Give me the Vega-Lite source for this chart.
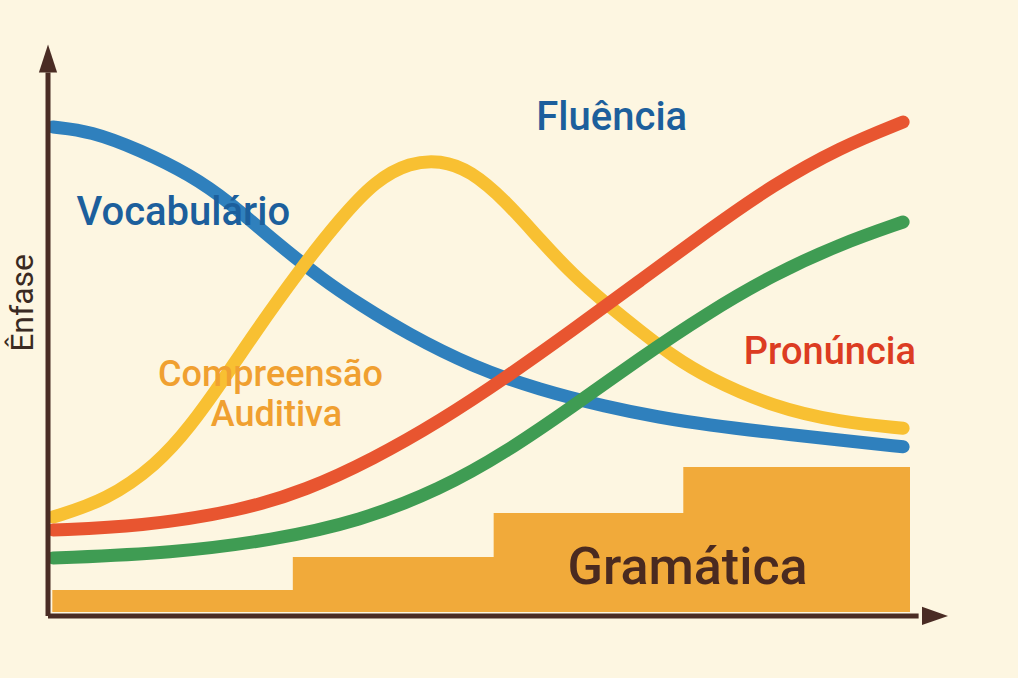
{
  "$schema": "https://vega.github.io/schema/vega-lite/v6.json",
  "width": 1018,
  "height": 678,
  "padding": 0,
  "autosize": {"type": "fit", "contains": "padding"},
  "background": "#fdf6e1",
  "config": {"view": {"stroke": null}, "font": "Roboto"},
  "datasets": {
    "curves": [
      {"series": "Vocabulário", "x": 0.06, "y": 8.63},
      {"series": "Vocabulário", "x": 0.49, "y": 8.56},
      {"series": "Vocabulário", "x": 1.07, "y": 8.22},
      {"series": "Vocabulário", "x": 1.65, "y": 7.78},
      {"series": "Vocabulário", "x": 2.1, "y": 7.3},
      {"series": "Vocabulário", "x": 2.61, "y": 6.62},
      {"series": "Vocabulário", "x": 3.19, "y": 5.91},
      {"series": "Vocabulário", "x": 3.62, "y": 5.47},
      {"series": "Vocabulário", "x": 4.16, "y": 4.96},
      {"series": "Vocabulário", "x": 4.93, "y": 4.36},
      {"series": "Vocabulário", "x": 5.71, "y": 3.95},
      {"series": "Vocabulário", "x": 6.48, "y": 3.65},
      {"series": "Vocabulário", "x": 7.1, "y": 3.46},
      {"series": "Vocabulário", "x": 7.65, "y": 3.33},
      {"series": "Vocabulário", "x": 8.41, "y": 3.19},
      {"series": "Vocabulário", "x": 9.19, "y": 3.06},
      {"series": "Vocabulário", "x": 9.92, "y": 2.94},
      {"series": "Compreensão Auditiva", "x": 0.06, "y": 1.69},
      {"series": "Compreensão Auditiva", "x": 0.68, "y": 1.99},
      {"series": "Compreensão Auditiva", "x": 1.26, "y": 2.62},
      {"series": "Compreensão Auditiva", "x": 1.65, "y": 3.3},
      {"series": "Compreensão Auditiva", "x": 2.03, "y": 4.12},
      {"series": "Compreensão Auditiva", "x": 2.38, "y": 4.93},
      {"series": "Compreensão Auditiva", "x": 2.92, "y": 6.09},
      {"series": "Compreensão Auditiva", "x": 3.39, "y": 7.0},
      {"series": "Compreensão Auditiva", "x": 3.8, "y": 7.68},
      {"series": "Compreensão Auditiva", "x": 4.2, "y": 8.0},
      {"series": "Compreensão Auditiva", "x": 4.55, "y": 8.04},
      {"series": "Compreensão Auditiva", "x": 4.9, "y": 7.86},
      {"series": "Compreensão Auditiva", "x": 5.32, "y": 7.3},
      {"series": "Compreensão Auditiva", "x": 5.71, "y": 6.62},
      {"series": "Compreensão Auditiva", "x": 6.09, "y": 6.0},
      {"series": "Compreensão Auditiva", "x": 6.48, "y": 5.48},
      {"series": "Compreensão Auditiva", "x": 6.87, "y": 5.0},
      {"series": "Compreensão Auditiva", "x": 7.25, "y": 4.55},
      {"series": "Compreensão Auditiva", "x": 7.65, "y": 4.17},
      {"series": "Compreensão Auditiva", "x": 8.41, "y": 3.65},
      {"series": "Compreensão Auditiva", "x": 9.19, "y": 3.38},
      {"series": "Compreensão Auditiva", "x": 9.92, "y": 3.27},
      {"series": "Fluência", "x": 0.06, "y": 0.96},
      {"series": "Fluência", "x": 1.45, "y": 1.05},
      {"series": "Fluência", "x": 2.61, "y": 1.28},
      {"series": "Fluência", "x": 3.62, "y": 1.62},
      {"series": "Fluência", "x": 4.55, "y": 2.18},
      {"series": "Fluência", "x": 5.32, "y": 2.85},
      {"series": "Fluência", "x": 6.09, "y": 3.66},
      {"series": "Fluência", "x": 6.87, "y": 4.52},
      {"series": "Fluência", "x": 7.65, "y": 5.32},
      {"series": "Fluência", "x": 8.41, "y": 6.0},
      {"series": "Fluência", "x": 9.19, "y": 6.55},
      {"series": "Fluência", "x": 9.92, "y": 6.94},
      {"series": "Pronúncia", "x": 0.06, "y": 1.46},
      {"series": "Pronúncia", "x": 1.07, "y": 1.52},
      {"series": "Pronúncia", "x": 2.23, "y": 1.8},
      {"series": "Pronúncia", "x": 3.0, "y": 2.17},
      {"series": "Pronúncia", "x": 3.77, "y": 2.72},
      {"series": "Pronúncia", "x": 4.55, "y": 3.4},
      {"series": "Pronúncia", "x": 5.32, "y": 4.18},
      {"series": "Pronúncia", "x": 6.09, "y": 5.02},
      {"series": "Pronúncia", "x": 6.87, "y": 5.9},
      {"series": "Pronúncia", "x": 7.65, "y": 6.78},
      {"series": "Pronúncia", "x": 8.41, "y": 7.6},
      {"series": "Pronúncia", "x": 9.19, "y": 8.27},
      {"series": "Pronúncia", "x": 9.92, "y": 8.72}
    ],
    "steps": [
      {"x": 0.05, "y": 0.39},
      {"x": 2.84, "y": 0.98},
      {"x": 5.17, "y": 1.76},
      {"x": 7.37, "y": 2.58},
      {"x": 10.0, "y": 2.58}
    ]
  },
  "layer": [
    {
      "data": {"name": "steps"},
      "mark": {"type": "area", "color": "#f1aa3a", "interpolate": "step-after", "opacity": 1},
      "encoding": {
        "x": {"field": "x", "type": "quantitative", "scale": {"domain": [-0.557, 11.253], "nice": false, "zero": false}, "axis": null},
        "y": {"field": "y", "type": "quantitative", "scale": {"domain": [-1.174, 10.89], "nice": false, "zero": false}, "axis": null},
        "y2": {"datum": 0}
      }
    },
    {
      "data": {"name": "curves"},
      "mark": {"type": "line", "strokeWidth": 13, "strokeCap": "round", "strokeJoin": "round", "interpolate": "basis"},
      "encoding": {
        "x": {"field": "x", "type": "quantitative"},
        "y": {"field": "y", "type": "quantitative"},
        "color": {"field": "series", "type": "nominal", "legend": null,
          "scale": {"domain": ["Vocabulário", "Compreensão Auditiva", "Fluência", "Pronúncia"], "range": ["#2f80bd", "#f8c032", "#3f9c53", "#e85530"]}},
        "order": {"field": "x", "type": "quantitative"}
      }
    },
    {
      "data": {"values": [{"x": 0, "y": -0.07, "x2": 0, "y2": 9.6}, {"x": 0, "y": -0.07, "x2": 10.1, "y2": -0.07}]},
      "mark": {"type": "rule", "color": "#4a2c24", "strokeWidth": 5},
      "encoding": {
        "x": {"field": "x", "type": "quantitative"},
        "y": {"field": "y", "type": "quantitative"},
        "x2": {"field": "x2"},
        "y2": {"field": "y2"}
      }
    },
    {
      "data": {"values": [{"x": 0, "y": 9.85}]},
      "mark": {"type": "point", "shape": "M-0.65,1L0,-1L0.65,1Z", "size": 784, "filled": true, "color": "#4a2c24", "opacity": 1},
      "encoding": {"x": {"field": "x", "type": "quantitative"}, "y": {"field": "y", "type": "quantitative"}}
    },
    {
      "data": {"values": [{"x": 10.29, "y": -0.07}]},
      "mark": {"type": "point", "shape": "M-1,-0.7L1,0L-1,0.7Z", "size": 676, "filled": true, "color": "#4a2c24", "opacity": 1},
      "encoding": {"x": {"field": "x", "type": "quantitative"}, "y": {"field": "y", "type": "quantitative"}}
    },
    {
      "data": {"values": [{"label": "Vocabulário", "x": 1.57, "y": 7.1}, {"label": "Fluência", "x": 6.54, "y": 8.79}]},
      "mark": {"type": "text", "fontSize": 40, "fontWeight": 500, "color": "#1c5f9c", "align": "center", "baseline": "middle", "font": "Roboto"},
      "encoding": {"x": {"field": "x", "type": "quantitative"}, "y": {"field": "y", "type": "quantitative"}, "text": {"field": "label"}}
    },
    {
      "data": {"values": [{"label": "Pronúncia", "x": 9.07, "y": 4.61}]},
      "mark": {"type": "text", "fontSize": 38, "fontWeight": 500, "color": "#dc3c22", "align": "center", "baseline": "middle", "font": "Roboto"},
      "encoding": {"x": {"field": "x", "type": "quantitative"}, "y": {"field": "y", "type": "quantitative"}, "text": {"field": "label"}}
    },
    {
      "data": {"values": [{"label": "Compreensão", "x": 2.58, "y": 4.22}, {"label": "Auditiva", "x": 2.65, "y": 3.51}]},
      "mark": {"type": "text", "fontSize": 36, "fontWeight": 500, "color": "#f0a030", "align": "center", "baseline": "middle", "font": "Roboto"},
      "encoding": {"x": {"field": "x", "type": "quantitative"}, "y": {"field": "y", "type": "quantitative"}, "text": {"field": "label"}}
    },
    {
      "data": {"values": [{"label": "Gramática", "x": 7.42, "y": 0.78}]},
      "mark": {"type": "text", "fontSize": 52, "fontWeight": 500, "color": "#4a2a20", "align": "center", "baseline": "middle", "font": "Roboto"},
      "encoding": {"x": {"field": "x", "type": "quantitative"}, "y": {"field": "y", "type": "quantitative"}, "text": {"field": "label"}}
    },
    {
      "data": {"values": [{"label": "Ênfase", "x": -0.17, "y": 5.5}]},
      "mark": {"type": "text", "fontSize": 32, "angle": 270, "color": "#3a2a22", "align": "center", "baseline": "alphabetic", "font": "Roboto"},
      "encoding": {"x": {"field": "x", "type": "quantitative"}, "y": {"field": "y", "type": "quantitative"}, "text": {"field": "label"}}
    }
  ]
}
